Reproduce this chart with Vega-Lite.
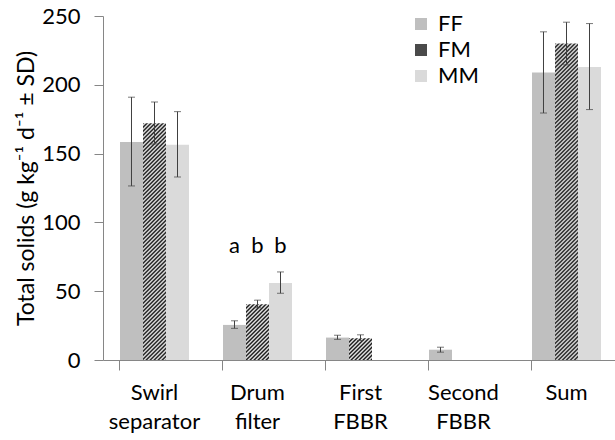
{
  "$schema": "https://vega.github.io/schema/vega-lite/v6.json",
  "width": 512,
  "height": 344,
  "autosize": "none",
  "padding": {"left": 103, "top": 16, "right": 0, "bottom": 80},
  "background": "white",
  "config": {"view": {"stroke": null}},
  "data": {"values": [
    {"cat": "Swirl separator", "trt": "FF", "mean": 158.5, "lo": 126.5, "hi": 191},
    {"cat": "Swirl separator", "trt": "FM", "mean": 172, "lo": 157, "hi": 187.5},
    {"cat": "Swirl separator", "trt": "MM", "mean": 156.5, "lo": 133, "hi": 180.5},
    {"cat": "Drum filter", "trt": "FF", "mean": 25.5, "lo": 23, "hi": 28.5, "letter": "a"},
    {"cat": "Drum filter", "trt": "FM", "mean": 40.5, "lo": 38, "hi": 43.5, "letter": "b"},
    {"cat": "Drum filter", "trt": "MM", "mean": 56, "lo": 48.5, "hi": 64, "letter": "b"},
    {"cat": "First FBBR", "trt": "FF", "mean": 16.3, "lo": 15, "hi": 18},
    {"cat": "First FBBR", "trt": "FM", "mean": 15.8, "lo": 14.2, "hi": 18.3},
    {"cat": "Second FBBR", "trt": "FF", "mean": 7.5, "lo": 5.7, "hi": 9.3},
    {"cat": "Sum", "trt": "FF", "mean": 209, "lo": 179.5, "hi": 238.5},
    {"cat": "Sum", "trt": "FM", "mean": 230, "lo": 214.5, "hi": 245.5},
    {"cat": "Sum", "trt": "MM", "mean": 213, "lo": 182, "hi": 244.5}
  ]},
  "encoding": {
    "x": {"field": "cat", "type": "nominal",
      "sort": ["Swirl separator", "Drum filter", "First FBBR", "Second FBBR", "Sum"],
      "scale": {"paddingInner": 0.33, "paddingOuter": 0.165, "range": [0, 515]},
      "axis": {"title": null, "labelAngle": 0, "bandPosition": 0, "domainColor": "#868686", "tickColor": "#868686", "tickSize": 10, "labelPadding": 12, "labelFontSize": 22, "labelFont": "Lato", "labelColor": "#000", "labelLineHeight": 29, "labelBaseline": "top", "labelExpr": "split(datum.label, ' ')"}},
    "xOffset": {"field": "trt", "type": "nominal", "scale": {"domain": ["FF", "FM", "MM"]}},
    "y": {"field": "mean", "type": "quantitative",
      "scale": {"domain": [0, 250], "nice": false},
      "axis": {"title": "Total solids (g kg⁻¹ d⁻¹ ± SD)", "values": [0, 50, 100, 150, 200, 250], "grid": false, "domainColor": "#868686", "tickColor": "#868686", "tickSize": 9, "labelPadding": 14, "labelFontSize": 22, "labelFont": "Lato", "labelColor": "#000", "titleFont": "Lato", "titleFontSize": 23, "titleFontWeight": "normal", "titleColor": "#000", "titlePadding": 3}}
  },
  "layer": [
    {
      "transform": [{"filter": "datum.trt != 'FM'"}],
      "mark": {"type": "bar"},
      "encoding": {
        "color": {"field": "trt", "type": "nominal",
          "scale": {"domain": ["FF", "FM", "MM"], "range": ["#bfbfbf", "#4a4a4a", "#dadada"]},
          "legend": {"orient": "none", "legendX": 307, "legendY": -3, "title": null, "symbolType": "square", "symbolSize": 144, "symbolStrokeWidth": 0, "symbolOpacity": 1, "labelFontSize": 22, "labelFont": "Lato", "labelColor": "#000", "rowPadding": 4, "labelOffset": 6, "padding": 0}}
      }
    },
    {
      "transform": [{"filter": "datum.cat == 'Swirl separator' && datum.trt == 'FM'"}],
      "mark": {"type": "bar", "fill": {"gradient": "linear", "x1": 0, "y1": 0, "x2": 0.16271, "y2": 1.67431, "stops": [
        {"offset":0,"color":"#000"},{"offset":0.005,"color":"#fff"},{"offset":0.01,"color":"#000"},{"offset":0.015,"color":"#fff"},{"offset":0.02,"color":"#000"},{"offset":0.025,"color":"#fff"},{"offset":0.03,"color":"#000"},{"offset":0.035,"color":"#fff"},{"offset":0.04,"color":"#000"},{"offset":0.045,"color":"#fff"},
        {"offset":0.05,"color":"#000"},{"offset":0.055,"color":"#fff"},{"offset":0.06,"color":"#000"},{"offset":0.065,"color":"#fff"},{"offset":0.07,"color":"#000"},{"offset":0.075,"color":"#fff"},{"offset":0.08,"color":"#000"},{"offset":0.085,"color":"#fff"},{"offset":0.09,"color":"#000"},{"offset":0.095,"color":"#fff"},
        {"offset":0.1,"color":"#000"},{"offset":0.105,"color":"#fff"},{"offset":0.11,"color":"#000"},{"offset":0.115,"color":"#fff"},{"offset":0.12,"color":"#000"},{"offset":0.125,"color":"#fff"},{"offset":0.13,"color":"#000"},{"offset":0.135,"color":"#fff"},{"offset":0.14,"color":"#000"},{"offset":0.145,"color":"#fff"},
        {"offset":0.15,"color":"#000"},{"offset":0.155,"color":"#fff"},{"offset":0.16,"color":"#000"},{"offset":0.165,"color":"#fff"},{"offset":0.17,"color":"#000"},{"offset":0.175,"color":"#fff"},{"offset":0.18,"color":"#000"},{"offset":0.185,"color":"#fff"},{"offset":0.19,"color":"#000"},{"offset":0.195,"color":"#fff"},
        {"offset":0.2,"color":"#000"},{"offset":0.205,"color":"#fff"},{"offset":0.21,"color":"#000"},{"offset":0.215,"color":"#fff"},{"offset":0.22,"color":"#000"},{"offset":0.225,"color":"#fff"},{"offset":0.23,"color":"#000"},{"offset":0.235,"color":"#fff"},{"offset":0.24,"color":"#000"},{"offset":0.245,"color":"#fff"},
        {"offset":0.25,"color":"#000"},{"offset":0.255,"color":"#fff"},{"offset":0.26,"color":"#000"},{"offset":0.265,"color":"#fff"},{"offset":0.27,"color":"#000"},{"offset":0.275,"color":"#fff"},{"offset":0.28,"color":"#000"},{"offset":0.285,"color":"#fff"},{"offset":0.29,"color":"#000"},{"offset":0.295,"color":"#fff"},
        {"offset":0.3,"color":"#000"},{"offset":0.305,"color":"#fff"},{"offset":0.31,"color":"#000"},{"offset":0.315,"color":"#fff"},{"offset":0.32,"color":"#000"},{"offset":0.325,"color":"#fff"},{"offset":0.33,"color":"#000"},{"offset":0.335,"color":"#fff"},{"offset":0.34,"color":"#000"},{"offset":0.345,"color":"#fff"},
        {"offset":0.35,"color":"#000"},{"offset":0.355,"color":"#fff"},{"offset":0.36,"color":"#000"},{"offset":0.365,"color":"#fff"},{"offset":0.37,"color":"#000"},{"offset":0.375,"color":"#fff"},{"offset":0.38,"color":"#000"},{"offset":0.385,"color":"#fff"},{"offset":0.39,"color":"#000"},{"offset":0.395,"color":"#fff"},
        {"offset":0.4,"color":"#000"},{"offset":0.405,"color":"#fff"},{"offset":0.41,"color":"#000"},{"offset":0.415,"color":"#fff"},{"offset":0.42,"color":"#000"},{"offset":0.425,"color":"#fff"},{"offset":0.43,"color":"#000"},{"offset":0.435,"color":"#fff"},{"offset":0.44,"color":"#000"},{"offset":0.445,"color":"#fff"},
        {"offset":0.45,"color":"#000"},{"offset":0.455,"color":"#fff"},{"offset":0.46,"color":"#000"},{"offset":0.465,"color":"#fff"},{"offset":0.47,"color":"#000"},{"offset":0.475,"color":"#fff"},{"offset":0.48,"color":"#000"},{"offset":0.485,"color":"#fff"},{"offset":0.49,"color":"#000"},{"offset":0.495,"color":"#fff"},
        {"offset":0.5,"color":"#000"},{"offset":0.505,"color":"#fff"},{"offset":0.51,"color":"#000"},{"offset":0.515,"color":"#fff"},{"offset":0.52,"color":"#000"},{"offset":0.525,"color":"#fff"},{"offset":0.53,"color":"#000"},{"offset":0.535,"color":"#fff"},{"offset":0.54,"color":"#000"},{"offset":0.545,"color":"#fff"},
        {"offset":0.55,"color":"#000"},{"offset":0.555,"color":"#fff"},{"offset":0.56,"color":"#000"},{"offset":0.565,"color":"#fff"},{"offset":0.57,"color":"#000"},{"offset":0.575,"color":"#fff"},{"offset":0.58,"color":"#000"},{"offset":0.585,"color":"#fff"},{"offset":0.59,"color":"#000"},{"offset":0.595,"color":"#fff"},
        {"offset":0.6,"color":"#000"},{"offset":0.605,"color":"#fff"},{"offset":0.61,"color":"#000"},{"offset":0.615,"color":"#fff"},{"offset":0.62,"color":"#000"},{"offset":0.625,"color":"#fff"},{"offset":0.63,"color":"#000"},{"offset":0.635,"color":"#fff"},{"offset":0.64,"color":"#000"},{"offset":0.645,"color":"#fff"},
        {"offset":0.65,"color":"#000"}]}}
    },
    {
      "transform": [{"filter": "datum.cat == 'Drum filter' && datum.trt == 'FM'"}],
      "mark": {"type": "bar", "fill": {"gradient": "linear", "x1": 0, "y1": 0, "x2": 0.63277, "y2": 1.53323, "stops": [
        {"offset":0,"color":"#000"},{"offset":0.02,"color":"#fff"},{"offset":0.04,"color":"#000"},{"offset":0.06,"color":"#fff"},{"offset":0.08,"color":"#000"},{"offset":0.1,"color":"#fff"},{"offset":0.12,"color":"#000"},{"offset":0.14,"color":"#fff"},{"offset":0.16,"color":"#000"},{"offset":0.18,"color":"#fff"},
        {"offset":0.2,"color":"#000"},{"offset":0.22,"color":"#fff"},{"offset":0.24,"color":"#000"},{"offset":0.26,"color":"#fff"},{"offset":0.28,"color":"#000"},{"offset":0.3,"color":"#fff"},{"offset":0.32,"color":"#000"},{"offset":0.34,"color":"#fff"},{"offset":0.36,"color":"#000"},{"offset":0.38,"color":"#fff"},
        {"offset":0.4,"color":"#000"},{"offset":0.42,"color":"#fff"},{"offset":0.44,"color":"#000"},{"offset":0.46,"color":"#fff"},{"offset":0.48,"color":"#000"},{"offset":0.5,"color":"#fff"},{"offset":0.52,"color":"#000"},{"offset":0.54,"color":"#fff"},{"offset":0.56,"color":"#000"},{"offset":0.58,"color":"#fff"},
        {"offset":0.6,"color":"#000"},{"offset":0.62,"color":"#fff"},{"offset":0.64,"color":"#000"},{"offset":0.66,"color":"#fff"},{"offset":0.68,"color":"#000"},{"offset":0.7,"color":"#fff"},{"offset":0.72,"color":"#000"},{"offset":0.74,"color":"#fff"},{"offset":0.76,"color":"#000"},{"offset":0.78,"color":"#fff"},
        {"offset":0.8,"color":"#000"}]}}
    },
    {
      "transform": [{"filter": "datum.cat == 'First FBBR' && datum.trt == 'FM'"}],
      "mark": {"type": "bar", "fill": {"gradient": "linear", "x1": 0, "y1": 0, "x2": 2.2963, "y2": 2.1705, "stops": [
        {"offset":0,"color":"#000"},{"offset":0.02,"color":"#fff"},{"offset":0.04,"color":"#000"},{"offset":0.06,"color":"#fff"},{"offset":0.08,"color":"#000"},{"offset":0.1,"color":"#fff"},{"offset":0.12,"color":"#000"},{"offset":0.14,"color":"#fff"},{"offset":0.16,"color":"#000"},{"offset":0.18,"color":"#fff"},
        {"offset":0.2,"color":"#000"},{"offset":0.22,"color":"#fff"},{"offset":0.24,"color":"#000"},{"offset":0.26,"color":"#fff"},{"offset":0.28,"color":"#000"},{"offset":0.3,"color":"#fff"},{"offset":0.32,"color":"#000"},{"offset":0.34,"color":"#fff"},{"offset":0.36,"color":"#000"},{"offset":0.38,"color":"#fff"},
        {"offset":0.4,"color":"#000"},{"offset":0.42,"color":"#fff"},{"offset":0.44,"color":"#000"},{"offset":0.46,"color":"#fff"},{"offset":0.48,"color":"#000"}]}}
    },
    {
      "transform": [{"filter": "datum.cat == 'Sum' && datum.trt == 'FM'"}],
      "mark": {"type": "bar", "fill": {"gradient": "linear", "x1": 0, "y1": 0, "x2": 0.09137, "y2": 1.25726, "stops": [
        {"offset":0,"color":"#000"},{"offset":0.005,"color":"#fff"},{"offset":0.01,"color":"#000"},{"offset":0.015,"color":"#fff"},{"offset":0.02,"color":"#000"},{"offset":0.025,"color":"#fff"},{"offset":0.03,"color":"#000"},{"offset":0.035,"color":"#fff"},{"offset":0.04,"color":"#000"},{"offset":0.045,"color":"#fff"},
        {"offset":0.05,"color":"#000"},{"offset":0.055,"color":"#fff"},{"offset":0.06,"color":"#000"},{"offset":0.065,"color":"#fff"},{"offset":0.07,"color":"#000"},{"offset":0.075,"color":"#fff"},{"offset":0.08,"color":"#000"},{"offset":0.085,"color":"#fff"},{"offset":0.09,"color":"#000"},{"offset":0.095,"color":"#fff"},
        {"offset":0.1,"color":"#000"},{"offset":0.105,"color":"#fff"},{"offset":0.11,"color":"#000"},{"offset":0.115,"color":"#fff"},{"offset":0.12,"color":"#000"},{"offset":0.125,"color":"#fff"},{"offset":0.13,"color":"#000"},{"offset":0.135,"color":"#fff"},{"offset":0.14,"color":"#000"},{"offset":0.145,"color":"#fff"},
        {"offset":0.15,"color":"#000"},{"offset":0.155,"color":"#fff"},{"offset":0.16,"color":"#000"},{"offset":0.165,"color":"#fff"},{"offset":0.17,"color":"#000"},{"offset":0.175,"color":"#fff"},{"offset":0.18,"color":"#000"},{"offset":0.185,"color":"#fff"},{"offset":0.19,"color":"#000"},{"offset":0.195,"color":"#fff"},
        {"offset":0.2,"color":"#000"},{"offset":0.205,"color":"#fff"},{"offset":0.21,"color":"#000"},{"offset":0.215,"color":"#fff"},{"offset":0.22,"color":"#000"},{"offset":0.225,"color":"#fff"},{"offset":0.23,"color":"#000"},{"offset":0.235,"color":"#fff"},{"offset":0.24,"color":"#000"},{"offset":0.245,"color":"#fff"},
        {"offset":0.25,"color":"#000"},{"offset":0.255,"color":"#fff"},{"offset":0.26,"color":"#000"},{"offset":0.265,"color":"#fff"},{"offset":0.27,"color":"#000"},{"offset":0.275,"color":"#fff"},{"offset":0.28,"color":"#000"},{"offset":0.285,"color":"#fff"},{"offset":0.29,"color":"#000"},{"offset":0.295,"color":"#fff"},
        {"offset":0.3,"color":"#000"},{"offset":0.305,"color":"#fff"},{"offset":0.31,"color":"#000"},{"offset":0.315,"color":"#fff"},{"offset":0.32,"color":"#000"},{"offset":0.325,"color":"#fff"},{"offset":0.33,"color":"#000"},{"offset":0.335,"color":"#fff"},{"offset":0.34,"color":"#000"},{"offset":0.345,"color":"#fff"},
        {"offset":0.35,"color":"#000"},{"offset":0.355,"color":"#fff"},{"offset":0.36,"color":"#000"},{"offset":0.365,"color":"#fff"},{"offset":0.37,"color":"#000"},{"offset":0.375,"color":"#fff"},{"offset":0.38,"color":"#000"},{"offset":0.385,"color":"#fff"},{"offset":0.39,"color":"#000"},{"offset":0.395,"color":"#fff"},
        {"offset":0.4,"color":"#000"},{"offset":0.405,"color":"#fff"},{"offset":0.41,"color":"#000"},{"offset":0.415,"color":"#fff"},{"offset":0.42,"color":"#000"},{"offset":0.425,"color":"#fff"},{"offset":0.43,"color":"#000"},{"offset":0.435,"color":"#fff"},{"offset":0.44,"color":"#000"},{"offset":0.445,"color":"#fff"},
        {"offset":0.45,"color":"#000"},{"offset":0.455,"color":"#fff"},{"offset":0.46,"color":"#000"},{"offset":0.465,"color":"#fff"},{"offset":0.47,"color":"#000"},{"offset":0.475,"color":"#fff"},{"offset":0.48,"color":"#000"},{"offset":0.485,"color":"#fff"},{"offset":0.49,"color":"#000"},{"offset":0.495,"color":"#fff"},
        {"offset":0.5,"color":"#000"},{"offset":0.505,"color":"#fff"},{"offset":0.51,"color":"#000"},{"offset":0.515,"color":"#fff"},{"offset":0.52,"color":"#000"},{"offset":0.525,"color":"#fff"},{"offset":0.53,"color":"#000"},{"offset":0.535,"color":"#fff"},{"offset":0.54,"color":"#000"},{"offset":0.545,"color":"#fff"},
        {"offset":0.55,"color":"#000"},{"offset":0.555,"color":"#fff"},{"offset":0.56,"color":"#000"},{"offset":0.565,"color":"#fff"},{"offset":0.57,"color":"#000"},{"offset":0.575,"color":"#fff"},{"offset":0.58,"color":"#000"},{"offset":0.585,"color":"#fff"},{"offset":0.59,"color":"#000"},{"offset":0.595,"color":"#fff"},
        {"offset":0.6,"color":"#000"},{"offset":0.605,"color":"#fff"},{"offset":0.61,"color":"#000"},{"offset":0.615,"color":"#fff"},{"offset":0.62,"color":"#000"},{"offset":0.625,"color":"#fff"},{"offset":0.63,"color":"#000"},{"offset":0.635,"color":"#fff"},{"offset":0.64,"color":"#000"},{"offset":0.645,"color":"#fff"},
        {"offset":0.65,"color":"#000"},{"offset":0.655,"color":"#fff"},{"offset":0.66,"color":"#000"},{"offset":0.665,"color":"#fff"},{"offset":0.67,"color":"#000"},{"offset":0.675,"color":"#fff"},{"offset":0.68,"color":"#000"},{"offset":0.685,"color":"#fff"},{"offset":0.69,"color":"#000"},{"offset":0.695,"color":"#fff"},
        {"offset":0.7,"color":"#000"},{"offset":0.705,"color":"#fff"},{"offset":0.71,"color":"#000"},{"offset":0.715,"color":"#fff"},{"offset":0.72,"color":"#000"},{"offset":0.725,"color":"#fff"},{"offset":0.73,"color":"#000"},{"offset":0.735,"color":"#fff"},{"offset":0.74,"color":"#000"},{"offset":0.745,"color":"#fff"},
        {"offset":0.75,"color":"#000"},{"offset":0.755,"color":"#fff"},{"offset":0.76,"color":"#000"},{"offset":0.765,"color":"#fff"},{"offset":0.77,"color":"#000"},{"offset":0.775,"color":"#fff"},{"offset":0.78,"color":"#000"},{"offset":0.785,"color":"#fff"},{"offset":0.79,"color":"#000"},{"offset":0.795,"color":"#fff"},
        {"offset":0.8,"color":"#000"},{"offset":0.805,"color":"#fff"},{"offset":0.81,"color":"#000"},{"offset":0.815,"color":"#fff"},{"offset":0.82,"color":"#000"},{"offset":0.825,"color":"#fff"},{"offset":0.83,"color":"#000"},{"offset":0.835,"color":"#fff"},{"offset":0.84,"color":"#000"},{"offset":0.845,"color":"#fff"},
        {"offset":0.85,"color":"#000"}]}}
    },
    {
      "mark": {"type": "rule", "color": "#404040", "strokeWidth": 1},
      "encoding": {"y": {"field": "lo", "type": "quantitative"}, "y2": {"field": "hi"}}
    },
    {
      "mark": {"type": "tick", "orient": "horizontal", "color": "#404040", "thickness": 1, "size": 7},
      "encoding": {"y": {"field": "lo", "type": "quantitative"}}
    },
    {
      "mark": {"type": "tick", "orient": "horizontal", "color": "#404040", "thickness": 1, "size": 7},
      "encoding": {"y": {"field": "hi", "type": "quantitative"}}
    },
    {
      "transform": [{"filter": "isValid(datum.letter)"}],
      "mark": {"type": "text", "fontSize": 22, "font": "Lato", "color": "#000", "baseline": "alphabetic"},
      "encoding": {"y": {"datum": 78, "type": "quantitative"}, "text": {"field": "letter"}}
    }
  ]
}
